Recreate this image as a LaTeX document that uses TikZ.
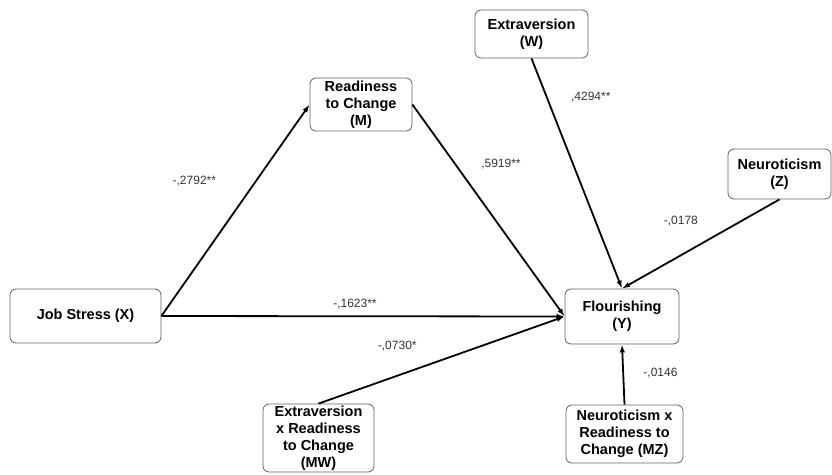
\documentclass[tikz,border=0pt]{standalone}
\usepackage{fontspec}
\setmainfont{Liberation Sans}
\usetikzlibrary{
	arrows.meta,
	positioning
}

\begin{document}
\begin{tikzpicture}[x=1pt,y=-1pt,
		box/.style={draw=gray!75!black,line width=.8pt,rounded corners=6pt,align=center,inner sep=0pt,font=\fontsize{14.5}{17}\selectfont\bfseries},
		link/.style={line width=1.8pt,-{Latex[length=8pt,width=5.5pt]}},
		coef/.style={font=\fontsize{12}{13}\selectfont,text=black!80}]

		\useasboundingbox (0,0) rectangle (832,474);

		\node[box,minimum width=151pt,minimum height=54pt] (X) at (85.5,316) {Job Stress (X)};
		\node[box,minimum width=102pt,minimum height=53pt] (M) at (361,104.5) {Readiness\\to Change\\(M)};
		\node[box,minimum width=114pt,minimum height=55pt] (Y) at (622,316.5) {Flourishing\\(Y)};
		\node[box,minimum width=113pt,minimum height=48pt] (W) at (531.5,34) {Extraversion\\(W)};
		\node[box,minimum width=103pt,minimum height=50pt] (Z) at (779.5,174) {Neuroticism\\(Z)};
		\node[box,minimum width=111pt,minimum height=68pt] (MW) at (318.5,438) {Extraversion\\x Readiness\\to Change\\(MW)};
		\node[box,minimum width=117pt,minimum height=58pt] (MZ) at (624.5,434) {Neuroticism x\\Readiness to\\Change (MZ)};

		\draw[link] (X.east) -- node[coef,pos=.64,left=36pt] (aXM) {-,2792**} (M.west);
		\draw[link] (X.east) -- node[coef,pos=.48,above=3pt] (cXY) {-,1623**} (Y.west);
		\draw[link] (M.east) -- node[coef,pos=.28,right=22pt] (bMY) {,5919**} (Y.west);
		\draw[link] (W.south) -- node[coef,pos=.17,right=20pt] (bWY) {,4294**} (Y.north);
		\draw[link] (Z.south) -- node[coef,pos=.55,above=18pt,xshift=-12pt] (bZY) {-,0178} (Y.north);
		\draw[link] (MW.north) -- node[coef,pos=.32,above=20pt] (bMWY) {-,0730*} (Y.west);
		\draw[link] (MZ.north) -- node[coef,pos=.52,right=16pt] (bMZY) {-,0146} (Y.south);

	\end{tikzpicture}
\end{document}
